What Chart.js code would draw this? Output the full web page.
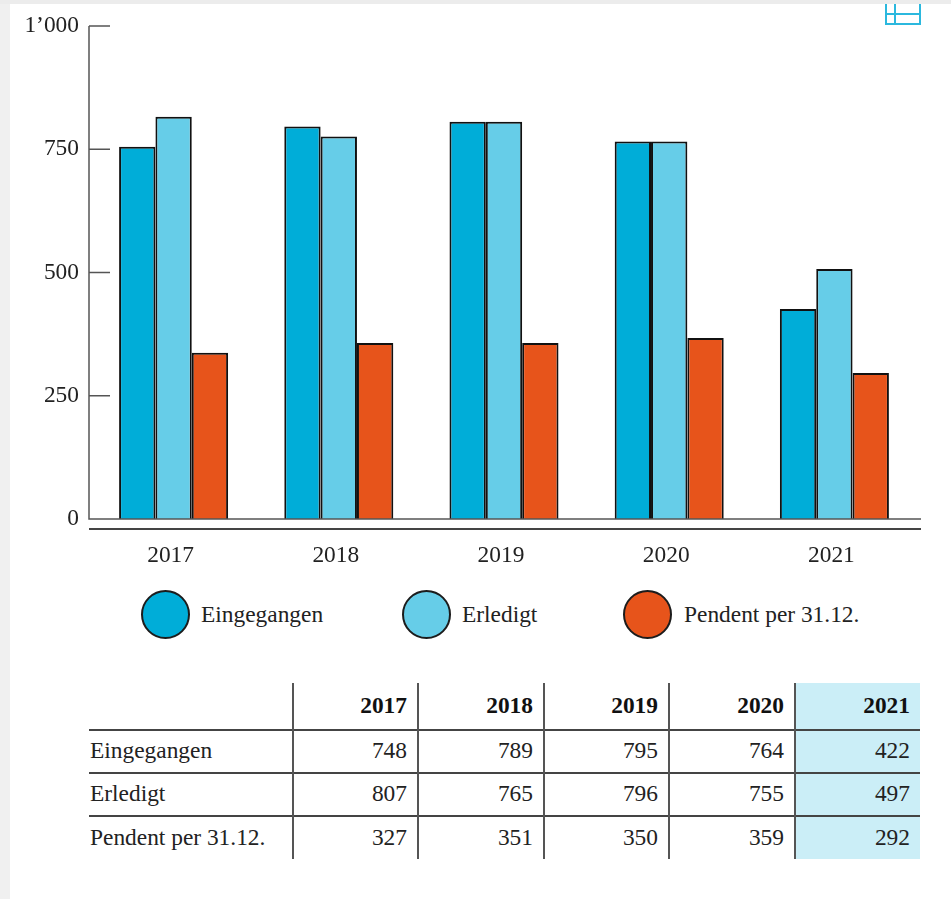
<!DOCTYPE html>
<html>
<head>
<meta charset="utf-8">
<script src="https://cdn.jsdelivr.net/npm/chart.js@4"></script>
<style>
  html, body { margin: 0; padding: 0; background: #fff; }
  body { width: 951px; height: 899px; position: relative; overflow: hidden; font-family: "Liberation Serif", serif; color: #222; }
  #edge-left { position: absolute; left: 0; top: 0; width: 10px; height: 899px; background: #f0f0f0; }
  #edge-top { position: absolute; left: 0; top: 0; width: 951px; height: 4px; background: #ececec; }
  #bar-chart { position: absolute; left: 0; top: 0; }
  #icon { position: absolute; left: 885px; top: 4px; width: 36px; height: 21px; }
  .leg { position: absolute; top: 590px; height: 48px; font-size: 23.4px; line-height: 48px; white-space: nowrap; }
  .leg i { position: absolute; left: 0; top: 0; width: 45px; height: 45px; border: 2px solid #1c1c1c; border-radius: 50%; }
  .leg span { position: absolute; top: 0; }
  table { position: absolute; left: 89px; top: 683px; width: 831px; border-collapse: collapse; table-layout: fixed; font-size: 23.4px; }
  td, th { padding: 0 10px 2px 0; text-align: right; border-left: 2px solid #555; border-top: 2px solid #444; height: 39px; font-weight: normal; }
  th { font-weight: bold; color: #111; border-top: none; height: 44px; }
  td:first-child, th:first-child { text-align: left; border-left: none; padding: 0 0 2px 1px; }
  tr:last-child td { height: 40px; }
  .hl { background: #cbeef7; }
</style>
</head>
<body>
<div id="edge-left"></div>
<div id="edge-top"></div>
<canvas id="bar-chart" width="951" height="580"></canvas>
<svg id="icon" viewBox="0 0 36 21">
  <path d="M1 0V20H35V0M1 10H35M10 0V20" fill="none" stroke="#2bb8de" stroke-width="2"/>
</svg>
<div id="legend"></div>
<table id="tbl"></table>

<script>
var years = ["2017", "2018", "2019", "2020", "2021"];
var seriesNames = ["Eingegangen", "Erledigt", "Pendent per 31.12."];
var seriesColors = ["#00add8", "#66cde8", "#e7541b"];

// bar heights as drawn in the chart
var eingegangen = [755, 796, 806, 766, 426];
var erledigt = [816, 776, 806, 766, 507];
var pendent = [337, 357, 357, 367, 296];

// numbers printed in the table
var tableEingegangen = [748, 789, 795, 764, 422];
var tableErledigt = [807, 765, 796, 755, 497];
var tablePendent = [327, 351, 350, 359, 292];

var yTicks = [0, 250, 500, 750, 1000];
var yTickLabels = { 0: "0", 250: "250", 500: "500", 750: "750", 1000: "1’000" };
var legendX = [141, 402, 623];
var legendTextX = [60, 60, 61];

// y axis with ticks pointing inward, baseline and the second line below it
var axisLines = {
    id: "axisLines",
    afterDatasetsDraw: function (chart) {
        var ctx = chart.ctx;
        var y = chart.scales.y;
        var zero = y.getPixelForValue(0);
        ctx.save();
        ctx.strokeStyle = "#555";
        ctx.lineWidth = 1.5;
        ctx.beginPath();
        ctx.moveTo(89, y.getPixelForValue(1000));
        ctx.lineTo(89, zero);
        ctx.lineTo(921, zero);
        yTicks.forEach(function (t) {
            if (t === 0) return;
            var p = y.getPixelForValue(t);
            ctx.moveTo(89, p);
            ctx.lineTo(110, p);
        });
        ctx.stroke();
        ctx.lineWidth = 2;
        ctx.strokeStyle = "#444";
        ctx.beginPath();
        ctx.moveTo(89, zero + 10);
        ctx.lineTo(921, zero + 10);
        ctx.stroke();
        ctx.restore();
    }
};

function makeDataset(i, values) {
    return {
        label: seriesNames[i],
        data: values,
        backgroundColor: seriesColors[i],
        borderColor: "#111",
        borderWidth: 2,
        barPercentage: 1,
        categoryPercentage: 0.66
    };
}

new Chart(document.getElementById("bar-chart"), {
    type: "bar",
    data: {
        labels: years,
        datasets: [
            makeDataset(0, eingegangen),
            makeDataset(1, erledigt),
            makeDataset(2, pendent)
        ]
    },
    options: {
        responsive: false,
        animation: false,
        layout: { padding: { left: 0, right: 34, top: 25, bottom: 0 } },
        plugins: { legend: { display: false }, tooltip: { enabled: false } },
        scales: {
            x: {
                grid: { display: false, drawTicks: false },
                border: { display: false },
                ticks: {
                    color: "#222",
                    font: { family: "Liberation Serif", size: 23.4 },
                    maxRotation: 0,
                    autoSkip: false,
                    labelOffset: -3,
                    padding: 23
                },
                afterFit: function (scale) { scale.height = 61; }
            },
            y: {
                position: "left",
                min: 0,
                max: 1000,
                grid: { display: false, drawTicks: false },
                border: { display: false },
                afterFit: function (scale) { scale.width = 91; },
                afterBuildTicks: function (scale) {
                    scale.ticks = yTicks.map(function (v) { return { value: v }; });
                },
                ticks: {
                    color: "#222",
                    padding: 12,
                    font: { family: "Liberation Serif", size: 23.4 },
                    callback: function (v) { return yTickLabels[v]; }
                }
            }
        }
    },
    plugins: [axisLines]
});

// legend
var legendHtml = "";
seriesNames.forEach(function (name, i) {
    legendHtml += '<div class="leg" style="left:' + legendX[i] + 'px"><i style="background:' + seriesColors[i] +
        '"></i><span style="left:' + legendTextX[i] + 'px">' + name + '</span></div>';
});
document.getElementById("legend").innerHTML = legendHtml;

// table below the chart
var rows = [tableEingegangen, tableErledigt, tablePendent];
var html = '<colgroup><col style="width:204px"><col style="width:125px"><col style="width:126px"><col style="width:125px"><col style="width:126px"><col style="width:125px"></colgroup><tr><th></th>';
years.forEach(function (y, i) {
    html += '<th' + (i === 4 ? ' class="hl"' : '') + '>' + y + '</th>';
});
html += '</tr>';
rows.forEach(function (row, r) {
    html += '<tr><td>' + seriesNames[r] + '</td>';
    row.forEach(function (v, i) {
        html += '<td' + (i === 4 ? ' class="hl"' : '') + '>' + v + '</td>';
    });
    html += '</tr>';
});
document.getElementById("tbl").innerHTML = html;
</script>
</body>
</html>
